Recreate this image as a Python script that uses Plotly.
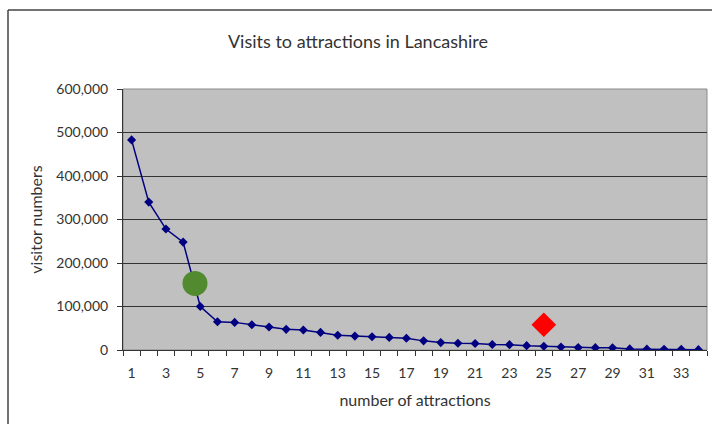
import plotly.graph_objects as go

# Visitor numbers per attraction, ranked from busiest to quietest
attraction_rank = list(range(1, 35))
visitors = [
    483000, 340000, 278000, 248000, 100000, 65000, 63500, 58000, 53000, 47500,
    46000, 40500, 34000, 32000, 30500, 29000, 27000, 21000, 17000, 15500,
    15000, 12500, 12300, 10000, 8500, 7000, 5500, 5400, 5000, 2500,
    2000, 1800, 1500, 800,
]

# Highlighted points
green_point_x = [4.69]
green_point_y = [153000]
red_point_x = [25]
red_point_y = [58000]

x_tick_vals = list(range(1, 35, 2))
x_tick_labels = [str(v) for v in x_tick_vals]
# category boundaries, where the tick marks sit
x_boundaries = [i + 0.5 for i in range(0, 35)]
y_ticks = [0, 100000, 200000, 300000, 400000, 500000, 600000]

FONT = "Lato"
TEXT = "#333333"
X_RANGE = [0.5, 34.5]

fig = go.Figure()
fig.add_trace(go.Scatter(
    x=attraction_rank, y=visitors, mode="lines+markers",
    line=dict(color="#000080", width=1.5),
    marker=dict(symbol="diamond", size=7, color="#000080"),
    showlegend=False, hoverinfo="skip",
))
fig.add_trace(go.Scatter(
    x=green_point_x, y=green_point_y, mode="markers",
    marker=dict(symbol="circle", size=25, color="#528A30"),
    showlegend=False, hoverinfo="skip",
))
fig.add_trace(go.Scatter(
    x=red_point_x, y=red_point_y, mode="markers",
    marker=dict(symbol="diamond", size=19, color="#FF0000"),
    showlegend=False, hoverinfo="skip",
))
# empty trace so the labelling axis (x2) is drawn
fig.add_trace(go.Scatter(x=[], y=[], xaxis="x2", yaxis="y",
                         showlegend=False, hoverinfo="skip"))

# Plot area in page pixels, mapped to paper coords for the frame shapes
L, R, T, B = 123, 707, 89, 350
W, H = 712, 424
def px(xp):
    return (xp - L) / (R - L)
def py(yp):
    return (B - yp) / (B - T)

shapes = [
    # outer chart frame (top and left edges)
    dict(type="line", xref="paper", yref="paper", x0=px(8), x1=px(712), y0=py(10), y1=py(10),
         line=dict(color="#444444", width=1.5)),
    dict(type="line", xref="paper", yref="paper", x0=px(8), x1=px(8), y0=py(10), y1=py(424),
         line=dict(color="#444444", width=1.5)),
    # plot area border
    dict(type="rect", xref="paper", yref="paper", x0=0, x1=1, y0=0, y1=1,
         line=dict(color="#8a8a8a", width=1), layer="below"),
]

fig.update_layout(
    width=W, height=H,
    margin=dict(l=L, r=W - R, t=T, b=H - B, pad=0),
    paper_bgcolor="white",
    plot_bgcolor="#C0C0C0",
    font=dict(family=FONT, size=14, color=TEXT),
    title=dict(text="Visits to attractions in Lancashire", x=358 / W, xanchor="center",
               y=1 - 42 / H, yanchor="middle", font=dict(size=18, color=TEXT, family=FONT)),
    shapes=shapes,
    # axis carrying the data: tick marks between categories, no labels
    xaxis=dict(
        range=X_RANGE,
        tickmode="array", tickvals=x_boundaries, showticklabels=False,
        ticks="outside", ticklen=5, tickcolor="#333333", tickwidth=1,
        showgrid=False, zeroline=False,
        showline=True, linecolor="#333333", linewidth=1,
    ),
    # overlaid axis carrying the odd-numbered labels and the title;
    # its transparent ticks only push the labels down
    xaxis2=dict(
        overlaying="x", anchor="y", side="bottom",
        range=X_RANGE,
        tickmode="array", tickvals=x_tick_vals, ticktext=x_tick_labels,
        ticks="outside", ticklen=10, tickcolor="rgba(0,0,0,0)",
        showgrid=False, zeroline=False, showline=False,
        tickfont=dict(size=14, color=TEXT),
        title=dict(text="number of attractions", font=dict(size=16, color=TEXT), standoff=15),
    ),
    yaxis=dict(
        range=[0, 600000],
        tickvals=y_ticks, tickformat=",",
        ticks="outside", ticklen=5, tickcolor="#333333",
        ticklabelstandoff=6,
        showgrid=True, gridcolor="#333333", gridwidth=1,
        zeroline=False,
        showline=True, linecolor="#333333", linewidth=1,
        tickfont=dict(size=14, color=TEXT),
        title=dict(text="visitor numbers", font=dict(size=16, color=TEXT), standoff=9),
    ),
)

fig.write_html("out.html")
